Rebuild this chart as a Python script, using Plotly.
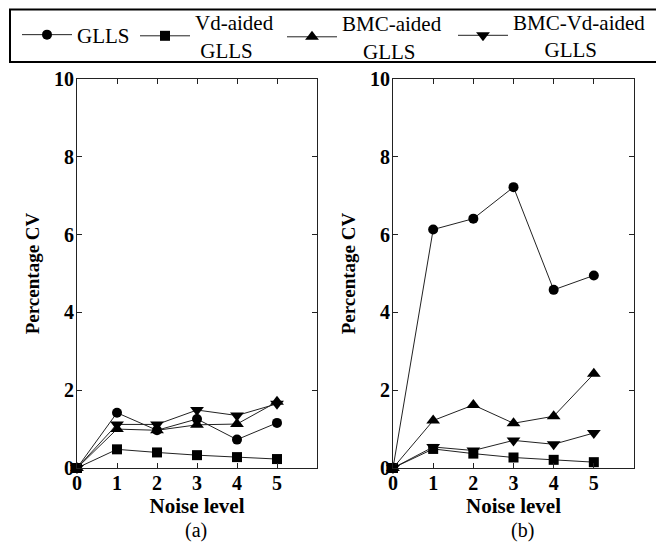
import plotly.graph_objects as go

noise = [0, 1, 2, 3, 4, 5]
x_ticks = [0, 1, 2, 3, 4, 5]
y_ticks = [0, 2, 4, 6, 8, 10]

# Panel (a)
a_glls = [0, 1.42, 0.97, 1.26, 0.73, 1.16]
a_vd = [0, 0.48, 0.40, 0.33, 0.28, 0.23]
a_bmc = [0, 1.00, 0.97, 1.11, 1.13, 1.70]
a_bmcvd = [0, 1.12, 1.12, 1.49, 1.35, 1.65]

# Panel (b)
b_glls = [0, 6.13, 6.41, 7.22, 4.58, 4.95]
b_vd = [0, 0.49, 0.37, 0.27, 0.21, 0.15]
b_bmc = [0, 1.22, 1.62, 1.15, 1.33, 2.42]
b_bmcvd = [0, 0.54, 0.45, 0.71, 0.61, 0.90]

NB = "\u00a0"
series_names = [
    "GLLS",
    "Vd-aided<br>" + NB * 1 + "GLLS",
    "BMC-aided<br>" + NB * 4 + "GLLS",
    "BMC-Vd-aided<br>" + NB * 6 + "GLLS",
]
legend_ids = ["legend", "legend2", "legend3", "legend4"]
symbols = ["circle", "square", "triangle-up", "triangle-down"]
sizes = [10, 10, 12, 12]

FONT = "Liberation Serif"

# The page body adds an 8px offset; work in page pixels and convert.
OFF = 8
W, H = 664 - OFF, 548 - OFF
def fx(p):
    return (p - OFF) / W
def fy(p):
    return 1 - (p - OFF) / H

fig = go.Figure()

panels = [
    ("x", "y", [a_glls, a_vd, a_bmc, a_bmcvd], True),
    ("x2", "y2", [b_glls, b_vd, b_bmc, b_bmcvd], False),
]
for xa, ya, data, show in panels:
    for name, sym, sz, vals, lg in zip(series_names, symbols, sizes, data, legend_ids):
        fig.add_trace(go.Scatter(
            x=noise, y=vals, mode="lines+markers", name=name,
            xaxis=xa, yaxis=ya, showlegend=show, legend=lg, cliponaxis=False,
            line=dict(color="#222", width=1),
            marker=dict(symbol=sym, size=sz, color="black"),
        ))

axis_common = dict(
    showline=True, linecolor="#222", linewidth=1, mirror="ticks",
    ticks="inside", ticklen=5, tickcolor="#222", showgrid=False, zeroline=False,
    automargin=False,
    tickfont=dict(family=FONT, size=20, color="black", weight="bold"),
)
xcommon = dict(axis_common, range=[0, 6], tickvals=x_ticks, ticklabelstandoff=-3,
               title=dict(text="Noise level", standoff=1,
                          font=dict(family=FONT, size=21, color="black", weight="bold")))
ycommon = dict(axis_common, range=[0, 10], tickvals=y_ticks, ticklabelstandoff=-2,
               title=dict(text="Percentage CV", standoff=9,
                          font=dict(family=FONT, size=19, color="black", weight="bold")))

legend_starts = [17, 135, 282, 453]
legend_mid = [35, 36, 37, 35.5]
legend_cfg = {}
for lg, xs, ym in zip(legend_ids, legend_starts, legend_mid):
    legend_cfg[lg] = dict(
        orientation="h", x=fx(xs), y=fy(ym), xanchor="left", yanchor="middle",
        borderwidth=0, bgcolor="rgba(0,0,0,0)", itemwidth=50,
        font=dict(family=FONT, size=21, color="black"),
    )

y_dom = [fy(468), fy(79)]
fig.update_layout(
    template="none",
    width=W, height=H,
    margin=dict(l=0, r=0, t=0, b=0, pad=0, autoexpand=False),
    paper_bgcolor="white", plot_bgcolor="white",
    xaxis=dict(xcommon, domain=[fx(77), fx(317)], anchor="y"),
    yaxis=dict(ycommon, domain=y_dom, anchor="x"),
    xaxis2=dict(xcommon, domain=[fx(393), fx(634)], anchor="y2"),
    yaxis2=dict(ycommon, domain=y_dom, anchor="x2"),
    shapes=[dict(type="rect", xref="paper", yref="paper",
                 x0=fx(10), x1=fx(658), y0=fy(62), y1=fy(9.5),
                 line=dict(color="black", width=2), fillcolor="rgba(0,0,0,0)")],
    annotations=[
        dict(text="(a)", x=fx(196), y=fy(530), xref="paper", yref="paper",
             xanchor="center", yanchor="middle",
             showarrow=False, font=dict(family=FONT, size=20, color="black")),
        dict(text="(b)", x=fx(522), y=fy(530), xref="paper", yref="paper",
             xanchor="center", yanchor="middle",
             showarrow=False, font=dict(family=FONT, size=20, color="black")),
    ],
    **legend_cfg,
)

fig.write_html("out.html")
